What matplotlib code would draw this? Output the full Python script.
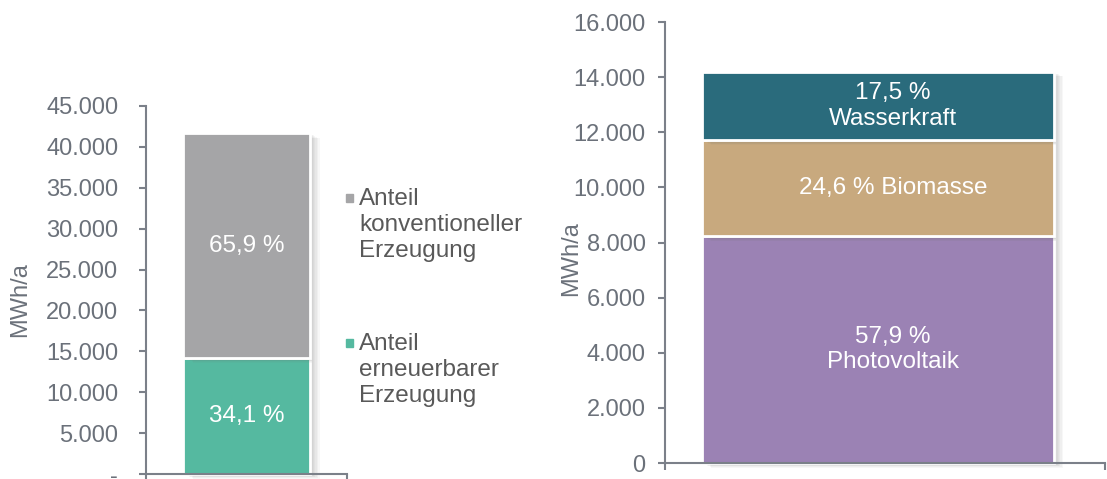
import matplotlib.pyplot as plt
from matplotlib.patches import Rectangle
from matplotlib.ticker import FuncFormatter
import matplotlib.patheffects as pe

plt.rcParams['font.family'] = ['Liberation Sans', 'DejaVu Sans']

# left chart: total generation split
left_labels = ['Anteil\nerneuerbarer\nErzeugung', 'Anteil\nkonventioneller\nErzeugung']
left_values = [14200, 27450]
left_texts = ['34,1 %', '65,9 %']
left_colors = ['#55B9A0', '#A5A5A7']

# right chart: renewable split
right_values = [8220, 3495, 2485]
right_texts = ['57,9 %\nPhotovoltaik', '24,6 % Biomasse', '17,5 %\nWasserkraft']
right_colors = ['#9B82B4', '#C8A97E', '#2A6B7C']

axis_col = '#7B8089'
tick_col = '#6B717A'
text_col = '#595959'

fig = plt.figure(figsize=(11.07, 4.79), dpi=100)
W, H = 1107, 479


def make_ax(x0, x1, y_top, y_bot):
    return fig.add_axes([x0 / W, 1 - y_bot / H, (x1 - x0) / W, (y_bot - y_top) / H])


def style(ax, ymax, step, zero_label, pad, xlim):
    for s in ['top', 'right']:
        ax.spines[s].set_visible(False)
    for s in ['left', 'bottom']:
        ax.spines[s].set_color(axis_col)
        ax.spines[s].set_linewidth(1.5)
    ax.set_xlim(*xlim)
    ax.set_ylim(0, ymax)
    ax.set_yticks(range(0, ymax + 1, step))
    ax.yaxis.set_major_formatter(FuncFormatter(
        lambda v, p: zero_label if v == 0 else f'{int(v):,}'.replace(',', '.')))
    ax.set_xticks(xlim)
    ax.set_xticklabels([])
    ax.tick_params(axis='both', colors=axis_col, labelcolor=tick_col,
                   labelsize=17, length=5, width=1.5)
    ax.tick_params(axis='y', pad=pad)
    ax.set_ylabel('MWh/a', color=tick_col, fontsize=17)


# soft shadow to the right of the bars
shadow = [pe.SimplePatchShadow(offset=(k, -0.5 * k), shadow_rgbFace='#777777', alpha=0.06)
          for k in range(1, 8)] + [pe.Normal()]

# left
ax1 = make_ax(146, 347, 106, 474)
style(ax1, 45000, 5000, '-', 15, (-0.5, 0.5))
ax1.yaxis.set_label_coords(-0.572, 0.473)
bottom = 0
for v, t, c in zip(left_values, left_texts, left_colors):
    b = ax1.bar(0, v, width=0.63, bottom=bottom, color=c, edgecolor='white',
                linewidth=2, clip_on=False)
    b[0].set_path_effects(shadow)
    ax1.text(0, bottom + v / 2, t, ha='center', va='center', color='white', fontsize=17.5)
    bottom += v

# legend (top entry = conventional)
leg_y = [198, 343]
for lab, c, y in zip(left_labels[::-1], left_colors[::-1], leg_y):
    fig.patches.append(Rectangle((346 / W, 1 - (y + 4) / H), 7 / W, 8 / H,
                                 transform=fig.transFigure, color=c))
    fig.text(359 / W, 1 - (y - 10) / H, lab, ha='left', va='top', color=text_col,
             fontsize=17.5, linespacing=1.23)

# right
ax2 = make_ax(665, 1105, 22, 463)
style(ax2, 16000, 2000, '0', 9, (-0.483, 0.517))
ax2.yaxis.set_label_coords(-0.189, 0.463)
bottom = 0
for v, t, c in zip(right_values, right_texts, right_colors):
    b = ax2.bar(0, v, width=0.8, bottom=bottom, color=c, edgecolor='white',
                linewidth=2, clip_on=False)
    b[0].set_path_effects(shadow)
    ax2.text(0.035, bottom + v / 2, t, ha='center', va='center', color='white',
             fontsize=17.5, linespacing=1.2)
    bottom += v

fig.savefig('out.png', dpi=100)
